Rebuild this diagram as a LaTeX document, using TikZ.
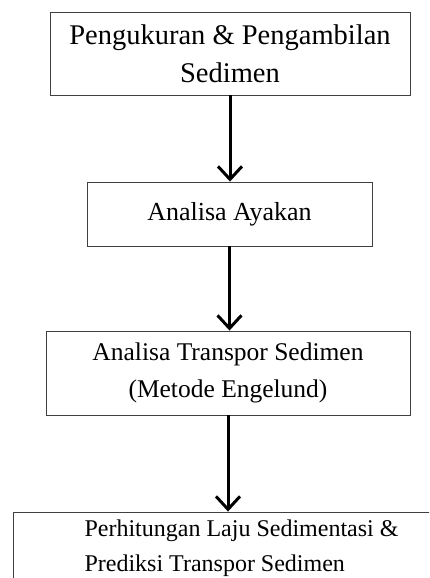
\documentclass[tikz,border=0pt]{standalone}
\usepackage{fontspec}
\setmainfont{Liberation Serif}
\usetikzlibrary{arrows.meta,positioning}

\tikzset{
  box/.style={draw=black!75, line width=0.9pt, align=center, inner sep=4pt},
  flow/.style={line width=3pt, -{Straight Barb[length=13pt,width=24pt,line width=3pt]}}
}

\begin{document}
\begin{tikzpicture}[x=1pt, y=-1pt]
    \useasboundingbox (0,0) rectangle (429,578);
    \clip (0,0) rectangle (429,578);

    % Steps
    \node[box, minimum width=360pt, minimum height=83pt, font=\fontsize{28.5}{38}\selectfont]
        (ukur) at (230,53.5) {Pengukuran \& Pengambilan\\Sedimen};
    \node[box, minimum width=285pt, minimum height=64pt, font=\fontsize{26}{37}\selectfont]
        (ayak) at (229.5,214) {Analisa Ayakan};
    \node[box, minimum width=364pt, minimum height=84pt, font=\fontsize{25.5}{37}\selectfont]
        (transpor) at (228,373) {Analisa Transpor Sedimen\\(Metode Engelund)};
    \node[box, align=left, minimum width=457pt, minimum height=72pt, font=\fontsize{24}{35}\selectfont]
        (hitung) at (241.5,548) {Perhitungan Laju Sedimentasi \&\\Prediksi Transpor Sedimen};

    % Arrows
    \draw[flow] (ukur.south) -- (ukur.south |- ayak.north);
    \draw[flow] (ayak.south) -- (ayak.south |- transpor.north);
    \draw[flow] (transpor.south) -- (transpor.south |- hitung.north);
\end{tikzpicture}
\end{document}
